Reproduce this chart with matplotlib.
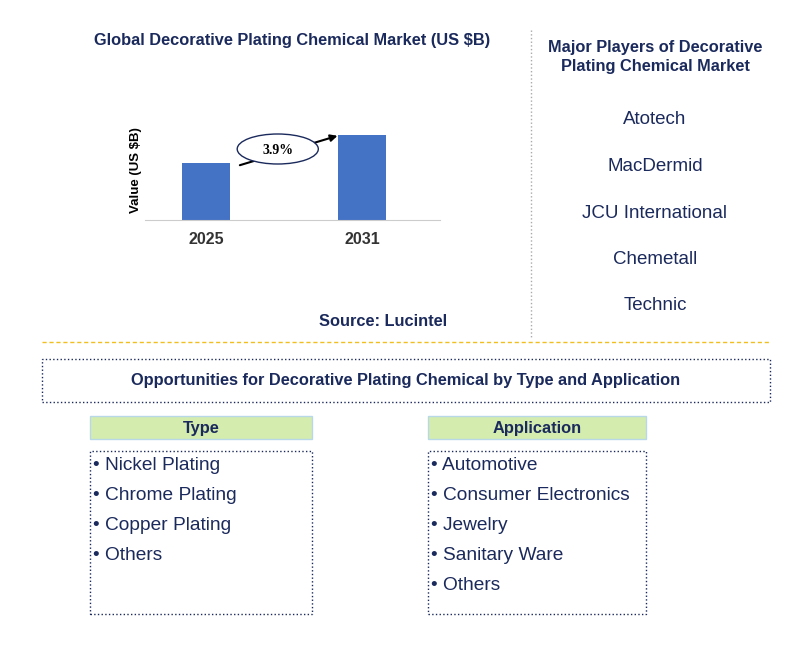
import matplotlib.pyplot as plt
from matplotlib.patches import Rectangle, Ellipse

plt.rcParams['font.family'] = 'Liberation Sans'

years = ['2025', '2031']
values = [5.7, 8.5]
cagr = '3.9%'
players = ['Atotech', 'MacDermid', 'JCU International', 'Chemetall', 'Technic']
types = ['Nickel Plating', 'Chrome Plating', 'Copper Plating', 'Others']
apps = ['Automotive', 'Consumer Electronics', 'Jewelry', 'Sanitary Ware', 'Others']

W, H = 795, 653
navy = '#1b2a5c'
fig = plt.figure(figsize=(W / 100, H / 100), dpi=100)

def fx(x):
    return x / W

def fy(y):
    return 1 - y / H

def box(x0, y0, x1, y1, **kw):
    fig.add_artist(Rectangle((fx(x0), fy(y1)), fx(x1 - x0), (y1 - y0) / H,
                             transform=fig.transFigure, **kw))

# bar chart
ax = fig.add_axes([fx(145), fy(220), fx(295), 100 / H])
ax.bar([0, 1], values, width=0.31, color='#4472c4')
ax.set_xlim(-0.391, 1.5)
ax.set_ylim(0, 10)
ax.set_xticks([0, 1])
ax.set_xticklabels(years, fontsize=11.5, fontweight='bold', color='#333333')
ax.tick_params(axis='x', length=0, pad=9)
ax.set_yticks([])
for s in ['top', 'right', 'left']:
    ax.spines[s].set_visible(False)
ax.spines['bottom'].set_color('#cccccc')
ax.set_ylabel('Value (US $B)', fontsize=9.5, fontweight='bold', labelpad=2)
ax.annotate('', xy=(0.86, 8.5), xytext=(0.2, 5.4),
            arrowprops=dict(arrowstyle='-|>', color='black', lw=1.5), zorder=2)
ax.add_patch(Ellipse((0.46, 7.1), 0.52, 3.0, facecolor='white', edgecolor=navy, lw=1, zorder=3))
ax.text(0.46, 7.0, cagr, ha='center', va='center', fontsize=10, fontweight='bold',
        family='Liberation Serif', zorder=4)

fig.text(fx(292), fy(41), 'Global Decorative Plating Chemical Market (US $B)',
         ha='center', va='center', fontsize=11.8, fontweight='bold', color=navy)
fig.text(fx(383), fy(322), 'Source: Lucintel', ha='center', va='center',
         fontsize=11.8, fontweight='bold', color=navy)

# players
fig.text(fx(655), fy(57), 'Major Players of Decorative\nPlating Chemical Market',
         ha='center', va='center', fontsize=11.8, fontweight='bold', color=navy, linespacing=1.3)
for i, p in enumerate(players):
    fig.text(fx(655), fy(120 + i * 46.5), p, ha='center', va='center', fontsize=13.5, color=navy)

fig.add_artist(plt.Line2D([fx(531)] * 2, [fy(30), fy(338)], color='#aaaaaa', lw=1, ls=':'))
fig.add_artist(plt.Line2D([fx(42), fx(770)], [fy(342)] * 2, color='#f0c020', lw=1, ls=(0, (3, 2))))

# opportunities
box(42, 359, 770, 402, fill=False, edgecolor=navy, lw=1, ls=':')
fig.text(fx(406), fy(381), 'Opportunities for Decorative Plating Chemical by Type and Application',
         ha='center', va='center', fontsize=11.8, fontweight='bold', color=navy)

for x0, x1, title, items in [(90, 312, 'Type', types), (428, 646, 'Application', apps)]:
    box(x0, 416, x1, 439, facecolor='#d4ecae', edgecolor='#b8d8e8', lw=1)
    fig.text(fx((x0 + x1) / 2), fy(428), title, ha='center', va='center',
             fontsize=11.8, fontweight='bold', color=navy)
    box(x0, 451, x1, 614, fill=False, edgecolor=navy, lw=1, ls=':')
    for i, t in enumerate(items):
        fig.text(fx(x0 + 3), fy(466 + i * 30), '• ' + t, ha='left', va='center',
                 fontsize=13.8, color=navy)

fig.savefig('out.png', dpi=100)
